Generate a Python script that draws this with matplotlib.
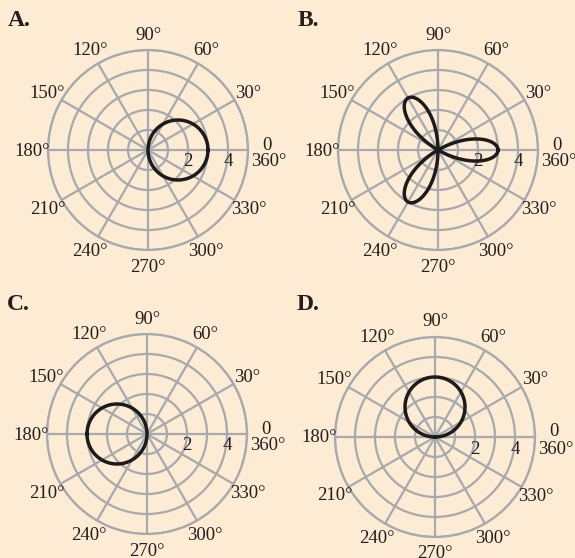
import numpy as np
import matplotlib.pyplot as plt

plt.rcParams['font.family'] = ['Liberation Serif', 'DejaVu Serif']

# curves: r = amplitude * trig(petals * theta)
panels = ['A.', 'B.', 'C.', 'D.']
amplitude = [3, 3, -3, 3]
petals = [1, 3, 1, 1]
trig = ['cos', 'cos', 'cos', 'sin']

angle_ticks = [30, 60, 90, 120, 150, 180, 210, 240, 270, 300, 330]
ring_values = [1, 2, 3, 4, 5]
ring_labels = [2, 4]

# layout in pixels
W, H = 575, 558
R = 100
centers_px = [(148, 150), (438, 150), (147, 434), (435, 437)]
title_px = [(8, 10), (298, 10), (7, 294), (297, 294)]

bg = '#fdebd4'
grid_c = '#a5a9b0'
line_c = '#1c1a1a'
text_c = '#231f20'
fs = 13.5

fig = plt.figure(figsize=(W / 100, H / 100), dpi=100, facecolor=bg)

for i in range(4):
    cx, cy = centers_px[i]
    ax = fig.add_axes([(cx - R) / W, (H - cy - R) / H, 2 * R / W, 2 * R / H],
                      projection='polar')
    ax.set_facecolor('none')
    ax.set_ylim(0, 5)
    ax.set_rgrids(ring_values, labels=[])
    ax.set_thetagrids(np.arange(0, 360, 30), labels=[])
    ax.grid(True, color=grid_c, lw=1.6)
    ax.spines['polar'].set_color(grid_c)
    ax.spines['polar'].set_linewidth(1.6)
    ax.tick_params(length=0)

    th = np.linspace(0, np.pi, 600)
    f = np.cos if trig[i] == 'cos' else np.sin
    r = amplitude[i] * f(petals[i] * th)
    # negative radius -> flip to the opposite side
    t = np.where(r < 0, th + np.pi, th)
    ax.plot(t, np.abs(r), color=line_c, lw=2.5, zorder=5)

    for a in angle_ticks:
        ax.annotate(f'{a}°', xy=(np.deg2rad(a), 5.8), xytext=(0, -1),
                    textcoords='offset pixels', ha='center', va='center',
                    fontsize=fs, color=text_c, annotation_clip=False)
    ax.annotate('0', xy=(0, 5), xytext=(19, 5), textcoords='offset pixels',
                ha='center', va='center', fontsize=fs, color=text_c,
                annotation_clip=False)
    ax.annotate('360°', xy=(0, 5), xytext=(21, -12), textcoords='offset pixels',
                ha='center', va='center', fontsize=fs, color=text_c,
                annotation_clip=False)
    for v in ring_labels:
        ax.annotate(str(v), xy=(0, v), xytext=(0, -12), textcoords='offset pixels',
                    ha='center', va='center', fontsize=fs, color=text_c,
                    annotation_clip=False)

    tx, ty = title_px[i]
    fig.text(tx / W, 1 - ty / H, panels[i], fontsize=17, fontweight='bold',
             color=text_c, ha='left', va='top')

fig.savefig('out.png', dpi=100, facecolor=bg)
